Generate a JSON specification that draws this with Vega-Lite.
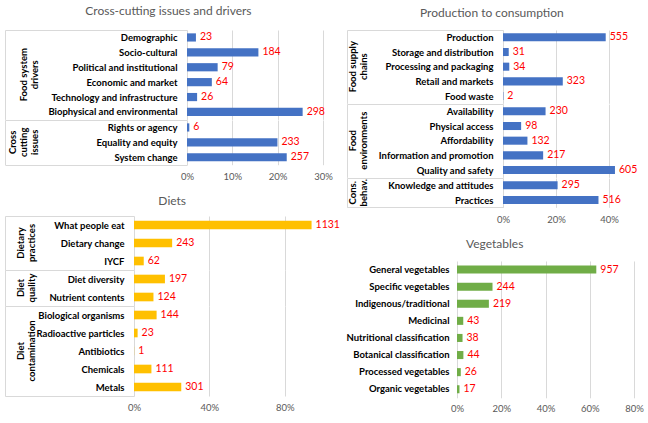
{
  "$schema": "https://vega.github.io/schema/vega-lite/v6.json",
  "background": "white",
  "padding": {"left": 3, "top": 5, "right": 0, "bottom": 0},
  "config": {
    "font": "Lato",
    "view": {"stroke": null},
    "title": {"fontSize": 12, "fontWeight": "normal", "color": "#595959", "anchor": "middle", "frame": "bounds", "offset": 10},
    "axisX": {"domain": false, "ticks": false, "labelColor": "#595959", "labelFontSize": 9.5, "labelPadding": 6, "gridColor": "#d9d9d9", "labelFlush": false, "labelOverlap": false, "title": null, "format": "%"},
    "axisY": {"labelFontWeight": "bold", "labelColor": "black", "labelFontSize": 9.5, "domain": false, "grid": false, "title": null, "labelLimit": 300},
    "header": {"title": null, "labelAngle": -90, "labelOrient": "left", "labelExpr": "split(datum.value, '|')", "labelFontWeight": "bold", "labelFontSize": 9.5, "labelColor": "black", "labelLineHeight": 11, "labelAlign": "center", "labelBaseline": "bottom"}
  },
  "datasets": {
    "none": [],
    "cross": [
      {"group": "Food system|drivers", "cat": "Demographic", "n": 23, "pct": 0.0197},
      {"group": "Food system|drivers", "cat": "Socio-cultural", "n": 184, "pct": 0.1575},
      {"group": "Food system|drivers", "cat": "Political and institutional", "n": 79, "pct": 0.0676},
      {"group": "Food system|drivers", "cat": "Economic and market", "n": 64, "pct": 0.0548},
      {"group": "Food system|drivers", "cat": "Technology and infrastructure", "n": 26, "pct": 0.0223},
      {"group": "Food system|drivers", "cat": "Biophysical and environmental", "n": 298, "pct": 0.2551},
      {"group": "Cross|cutting|issues", "cat": "Rights or agency", "n": 6, "pct": 0.0051},
      {"group": "Cross|cutting|issues", "cat": "Equality and equity", "n": 233, "pct": 0.1995},
      {"group": "Cross|cutting|issues", "cat": "System change", "n": 257, "pct": 0.22}
    ],
    "prod": [
      {"group": "Food supply|chains", "cat": "Production", "n": 555, "pct": 0.3876},
      {"group": "Food supply|chains", "cat": "Storage and distribution", "n": 31, "pct": 0.0216},
      {"group": "Food supply|chains", "cat": "Processing and packaging", "n": 34, "pct": 0.0237},
      {"group": "Food supply|chains", "cat": "Retail and markets", "n": 323, "pct": 0.2256},
      {"group": "Food supply|chains", "cat": "Food waste", "n": 2, "pct": 0.0014},
      {"group": "Food|environments", "cat": "Availability", "n": 230, "pct": 0.1606},
      {"group": "Food|environments", "cat": "Physical access", "n": 98, "pct": 0.0684},
      {"group": "Food|environments", "cat": "Affordability", "n": 132, "pct": 0.0922},
      {"group": "Food|environments", "cat": "Information and promotion", "n": 217, "pct": 0.1515},
      {"group": "Food|environments", "cat": "Quality and safety", "n": 605, "pct": 0.4225},
      {"group": "Cons.|behav.", "cat": "Knowledge and attitudes", "n": 295, "pct": 0.206},
      {"group": "Cons.|behav.", "cat": "Practices", "n": 516, "pct": 0.3603}
    ],
    "diets": [
      {"group": "Dietary|practices", "cat": "What people eat", "n": 1131, "pct": 0.9425},
      {"group": "Dietary|practices", "cat": "Dietary change", "n": 243, "pct": 0.2025},
      {"group": "Dietary|practices", "cat": "IYCF", "n": 62, "pct": 0.0517},
      {"group": "Diet|quality", "cat": "Diet diversity", "n": 197, "pct": 0.1642},
      {"group": "Diet|quality", "cat": "Nutrient contents", "n": 124, "pct": 0.1033},
      {"group": "Diet|contamination", "cat": "Biological organisms", "n": 144, "pct": 0.12},
      {"group": "Diet|contamination", "cat": "Radioactive particles", "n": 23, "pct": 0.0192},
      {"group": "Diet|contamination", "cat": "Antibiotics", "n": 1, "pct": 0.0008},
      {"group": "Diet|contamination", "cat": "Chemicals", "n": 111, "pct": 0.0925},
      {"group": "Diet|contamination", "cat": "Metals", "n": 301, "pct": 0.2508}
    ],
    "veg": [
      {"cat": "General vegetables", "n": 957, "pct": 0.6296},
      {"cat": "Specific vegetables", "n": 244, "pct": 0.1605},
      {"cat": "Indigenous/traditional", "n": 219, "pct": 0.1441},
      {"cat": "Medicinal", "n": 43, "pct": 0.0283},
      {"cat": "Nutritional classification", "n": 38, "pct": 0.025},
      {"cat": "Botanical classification", "n": 44, "pct": 0.0289},
      {"cat": "Processed vegetables", "n": 26, "pct": 0.0171},
      {"cat": "Organic vegetables", "n": 17, "pct": 0.0112}
    ]
  },
  "spacing": 5,
  "hconcat": [
    {
      "spacing": 14,
      "vconcat": [
        {
          "spacing": 0,
          "hconcat": [
            {"data": {"name": "none"}, "mark": "point", "width": 1, "height": 1},
            {
              "title": {"text": "Cross-cutting issues and drivers", "offset": 7},
              "data": {"name": "cross"},
              "bounds": "flush",
              "spacing": 0,
              "facet": {"row": {"field": "group", "type": "nominal", "sort": ["Food system|drivers", "Cross|cutting|issues"], "header": {"labelPadding": 138}}},
              "resolve": {"scale": {"y": "independent"}},
              "spec": {
                "width": 136,
                "height": {"step": 14.9},
                "resolve": {"axis": {"y": "independent"}},
                "layer": [
                  {
                    "mark": {"type": "bar", "height": {"band": 0.55}, "color": "#4472C4"},
                    "encoding": {
                      "y": {"field": "cat", "type": "nominal", "sort": null, "scale": {"paddingInner": 0, "paddingOuter": 0},
                        "axis": {"tickBand": "extent", "tickSize": 182, "tickColor": "#d9d9d9", "tickOpacity": {"condition": {"test": "datum.extra || datum.value === 'System change'", "value": 1}, "value": 0}, "labelPadding": -172}},
                      "x": {"field": "pct", "type": "quantitative", "scale": {"domain": [0, 0.3], "nice": false}, "axis": {"values": [0, 0.1, 0.2, 0.3], "labelOverlap": false}}
                    }
                  },
                  {
                    "mark": {"type": "text", "align": "left", "dx": 4, "color": "#ff0000", "fontSize": 10.5},
                    "encoding": {
                      "y": {"field": "cat", "type": "nominal", "sort": null, "axis": {"orient": "left", "offset": 182, "labels": false, "ticks": false, "domain": true, "domainColor": "#d9d9d9"}},
                      "x": {"field": "pct", "type": "quantitative"},
                      "text": {"field": "n", "type": "nominal"}
                    }
                  }
                ]
              }
            }
          ]
        },
        {
          "spacing": 0,
          "hconcat": [
            {"data": {"name": "none"}, "mark": "point", "width": 1, "height": 1},
            {
              "title": {"text": "Diets", "offset": 3},
              "data": {"name": "diets"},
              "bounds": "flush",
              "spacing": 0,
              "facet": {"row": {"field": "group", "type": "nominal", "sort": ["Dietary|practices", "Diet|quality", "Diet|contamination"], "header": {"labelPadding": 88}}},
              "resolve": {"scale": {"y": "independent"}},
              "spec": {
                "width": 188.4,
                "height": {"step": 18},
                "resolve": {"axis": {"y": "independent"}},
                "layer": [
                  {
                    "mark": {"type": "bar", "height": {"band": 0.48}, "color": "#FFC000"},
                    "encoding": {
                      "y": {"field": "cat", "type": "nominal", "sort": null, "scale": {"paddingInner": 0, "paddingOuter": 0},
                        "axis": {"tickBand": "extent", "tickSize": 129, "tickColor": "#d9d9d9", "tickOpacity": {"condition": {"test": "datum.extra || datum.value === 'Metals'", "value": 1}, "value": 0}, "labelPadding": -119}},
                      "x": {"field": "pct", "type": "quantitative", "scale": {"domain": [0, 1], "nice": false}, "axis": {"values": [0, 0.2, 0.4, 0.6, 0.8, 1], "labelOverlap": false}}
                    }
                  },
                  {
                    "mark": {"type": "text", "align": "left", "dx": 4, "color": "#ff0000", "fontSize": 10.5},
                    "encoding": {
                      "y": {"field": "cat", "type": "nominal", "sort": null, "axis": {"orient": "left", "offset": 129, "labels": false, "ticks": false, "domain": true, "domainColor": "#d9d9d9"}},
                      "x": {"field": "pct", "type": "quantitative"},
                      "text": {"field": "n", "type": "nominal"}
                    }
                  }
                ]
              }
            }
          ]
        }
      ]
    },
    {
      "spacing": 14,
      "vconcat": [
        {
          "spacing": 0,
          "hconcat": [
            {"data": {"name": "none"}, "mark": "point", "width": 1, "height": 1},
            {
              "title": {"text": "Production to consumption", "offset": 7, "dy": 2},
              "data": {"name": "prod"},
              "bounds": "flush",
              "spacing": 0,
              "facet": {"row": {"field": "group", "type": "nominal", "sort": ["Food supply|chains", "Food|environments", "Cons.|behav."], "header": {"labelPadding": 125}}},
              "resolve": {"scale": {"y": "independent"}},
              "spec": {
                "width": 132.5,
                "height": {"step": 14.67},
                "resolve": {"axis": {"y": "independent"}},
                "layer": [
                  {
                    "mark": {"type": "bar", "height": {"band": 0.55}, "color": "#4472C4"},
                    "encoding": {
                      "y": {"field": "cat", "type": "nominal", "sort": null, "scale": {"paddingInner": 0, "paddingOuter": 0},
                        "axis": {"tickBand": "extent", "tickSize": 156, "tickColor": "#d9d9d9", "tickOpacity": {"condition": {"test": "datum.extra || datum.value === 'Practices'", "value": 1}, "value": 0}, "labelPadding": -146}},
                      "x": {"field": "pct", "type": "quantitative", "scale": {"domain": [0, 0.5], "nice": false}, "axis": {"values": [0, 0.1, 0.2, 0.3, 0.4, 0.5], "labelOverlap": false}}
                    }
                  },
                  {
                    "mark": {"type": "text", "align": "left", "dx": 4, "color": "#ff0000", "fontSize": 10.5},
                    "encoding": {
                      "y": {"field": "cat", "type": "nominal", "sort": null, "axis": {"orient": "left", "offset": 156, "labels": false, "ticks": false, "domain": true, "domainColor": "#d9d9d9"}},
                      "x": {"field": "pct", "type": "quantitative"},
                      "text": {"field": "n", "type": "nominal"}
                    }
                  }
                ]
              }
            }
          ]
        },
        {
          "spacing": 0,
          "hconcat": [
            {"data": {"name": "none"}, "mark": "point", "width": 1, "height": 1},
            {
              "title": {"text": "Vegetables", "offset": 10},
              "data": {"name": "veg"},
              "width": 177,
              "height": {"step": 17.1},
              "encoding": {
                "y": {"field": "cat", "type": "nominal", "sort": null, "scale": {"paddingInner": 0, "paddingOuter": 0}, "axis": {"ticks": false, "labelPadding": 8}},
                "x": {"field": "pct", "type": "quantitative", "scale": {"domain": [0, 0.8], "nice": false}, "axis": {"values": [0, 0.2, 0.4, 0.6, 0.8], "labelOverlap": false}}
              },
              "layer": [
                {"mark": {"type": "bar", "height": {"band": 0.47}, "color": "#70AD47"}},
                {"mark": {"type": "text", "align": "left", "dx": 4, "color": "#ff0000", "fontSize": 10.5}, "encoding": {"text": {"field": "n", "type": "nominal"}}}
              ]
            }
          ]
        }
      ]
    }
  ]
}
